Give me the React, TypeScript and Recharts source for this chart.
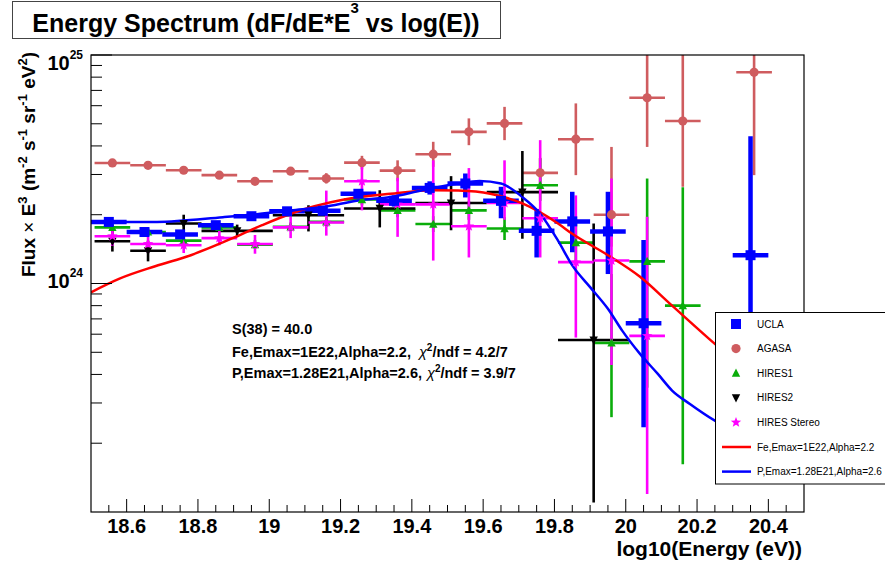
import React from 'react';
import { ComposedChart, Scatter, Line, XAxis, YAxis, ErrorBar } from 'recharts';

const W = 885;
const H = 567;
const PLOT = { left: 91, top: 55, right: 804, bottom: 512 };
const FONT = '"Liberation Sans", Arial, Helvetica, sans-serif';
const E24 = 1e24;

// axis ticks
const xMajorTicks = [18.6, 18.8, 19, 19.2, 19.4, 19.6, 19.8, 20, 20.2, 20.4];
const xMinorTicks = [
  18.55, 18.65, 18.7, 18.75, 18.85, 18.9, 18.95, 19.05, 19.1, 19.15, 19.25, 19.3, 19.35, 19.45, 19.5,
  19.55, 19.65, 19.7, 19.75, 19.85, 19.9, 19.95, 20.05, 20.1, 20.15, 20.25, 20.3, 20.35, 20.45,
];
const yMajorTicks = [1e24, 1e25];
const yMinorTicks = [2e23, 3e23, 4e23, 5e23, 6e23, 7e23, 8e23, 9e23, 2e24, 3e24, 4e24, 5e24, 6e24, 7e24, 8e24, 9e24];

// UCLA (values in units of 1e24)
const uclaX = [18.55, 18.65, 18.75, 18.85, 18.95, 19.05, 19.15, 19.25, 19.35, 19.45, 19.55, 19.65, 19.75, 19.85, 19.95, 20.05, 20.35];
const uclaY = [1.86, 1.68, 1.64, 1.8, 1.97, 2.07, 2.08, 2.47, 2.3, 2.62, 2.74, 2.3, 1.7, 1.87, 1.69, 0.67, 1.33];
const uclaLo = [1.8, 1.62, 1.58, 1.74, 1.9, 1.99, 2.0, 2.36, 2.17, 2.45, 2.38, 1.93, 1.3, 1.37, 1.1, 0.235, 0.3];
const uclaHi = [1.92, 1.74, 1.7, 1.87, 2.04, 2.15, 2.17, 2.58, 2.43, 2.8, 3.03, 2.65, 2.12, 2.52, 2.52, 1.55, 4.41];

// AGASA
const agasaX = [18.56, 18.66, 18.76, 18.86, 18.96, 19.06, 19.16, 19.26, 19.36, 19.46, 19.56, 19.66, 19.76, 19.86, 19.96, 20.06, 20.16, 20.36];
const agasaY = [3.37, 3.29, 3.13, 2.98, 2.8, 3.1, 2.88, 3.38, 3.12, 3.68, 4.61, 5.02, 3.05, 4.28, 2.0, 6.5, 5.14, 8.4];
const agasaLo = [3.28, 3.2, 3.04, 2.89, 2.71, 3.0, 2.74, 3.16, 2.8, 3.24, 4.03, 4.24, 2.65, 2.98, 1.45, 3.96, 2.65, 2.98];
const agasaHi = [3.46, 3.38, 3.22, 3.07, 2.89, 3.2, 3.04, 3.62, 3.46, 4.17, 5.28, 5.93, 3.55, 6.14, 3.96, 10, 10, 10];

// HIRES1
const hires1X = [18.56, 18.66, 18.76, 18.86, 18.96, 19.06, 19.16, 19.26, 19.36, 19.46, 19.56, 19.66, 19.76, 19.86, 19.96, 20.06, 20.16];
const hires1Y = [1.76, 1.68, 1.54, 1.76, 1.48, 1.77, 1.86, 2.33, 2.09, 1.82, 2.09, 1.74, 2.69, 1.51, 0.55, 1.25, 0.8];
const hires1Lo = [1.7, 1.62, 1.48, 1.69, 1.42, 1.69, 1.77, 2.2, 1.95, 1.68, 1.9, 1.55, 2.3, 1.22, 0.26, 0.35, 0.162];
const hires1Hi = [1.83, 1.74, 1.6, 1.83, 1.55, 1.85, 1.96, 2.46, 2.24, 1.97, 2.3, 1.95, 3.53, 1.9, 1.1, 2.88, 2.64];

// HIRES2 (wider bins above 18.8)
const hires2X = [18.56, 18.66, 18.76, 18.91, 19.11, 19.31, 19.51, 19.71, 19.91];
const hires2Ex = [0.05, 0.05, 0.05, 0.1, 0.1, 0.1, 0.1, 0.1, 0.1];
const hires2Y = [1.53, 1.39, 1.83, 1.7, 1.99, 2.13, 2.25, 2.51, 0.566];
const hires2Lo = [1.38, 1.25, 1.71, 1.6, 1.69, 1.76, 1.71, 1.57, 0.11];
const hires2Hi = [1.7, 1.54, 2.0, 1.81, 2.2, 2.56, 2.95, 3.8, 1.83];

// HIRES Stereo
const stereoX = [18.56, 18.66, 18.76, 18.86, 18.96, 19.06, 19.16, 19.26, 19.36, 19.46, 19.56, 19.66, 19.76, 19.86, 19.96, 20.06];
const stereoY = [1.61, 1.49, 1.47, 1.58, 1.49, 1.76, 1.85, 2.8, 2.22, 2.22, 1.78, 2.25, 1.93, 1.24, 1.26, 0.59];
const stereoLo = [1.46, 1.36, 1.36, 1.47, 1.35, 1.58, 1.62, 2.09, 1.6, 1.26, 1.3, 1.9, 1.3, 0.58, 0.44, 0.12];
const stereoHi = [1.76, 1.6, 1.57, 1.71, 1.63, 1.96, 2.55, 3.46, 2.9, 3.46, 3.2, 3.46, 4.24, 2.43, 2.88, 1.96];

// model curves
const feX = [18.5, 18.58, 18.68, 18.78, 18.91, 18.98, 19.06, 19.21, 19.34, 19.46, 19.53, 19.62, 19.71, 19.81, 19.85, 19.95, 20.04, 20.13, 20.25, 20.35];
const feY = [0.915, 1.05, 1.19, 1.33, 1.61, 1.8, 2.02, 2.33, 2.47, 2.56, 2.55, 2.47, 2.24, 1.83, 1.65, 1.33, 1.07, 0.8, 0.544, 0.4];
const pX = [18.5, 18.685, 18.87, 18.965, 19.06, 19.15, 19.25, 19.34, 19.43, 19.53, 19.59, 19.65, 19.71, 19.76, 19.81, 19.85, 19.9, 19.95, 19.99, 20.04, 20.09, 20.13, 20.18, 20.25, 20.35];
const pY = [1.86, 1.86, 1.95, 2.01, 2.09, 2.16, 2.31, 2.39, 2.56, 2.74, 2.81, 2.74, 2.39, 2.02, 1.54, 1.2, 0.964, 0.775, 0.622, 0.492, 0.402, 0.34, 0.297, 0.251, 0.21];

const COLORS = {
  ucla: '#0000ff',
  agasa: '#cf5c5f',
  hires1: '#0aad0a',
  hires2: '#000000',
  stereo: '#ff00ff',
  fe: '#ff0000',
  p: '#0000ff',
};

const makePoints = (xs: number[], ys: number[], lo: number[], hi: number[], ex: number | number[]) =>
  xs.map((x, i) => ({
    x,
    y: ys[i] * E24,
    ex: Array.isArray(ex) ? ex[i] : ex,
    ey: [(ys[i] - lo[i]) * E24, (hi[i] - ys[i]) * E24],
  }));

const makeCurve = (xs: number[], ys: number[]) => xs.map((x, i) => ({ x, y: ys[i] * E24 }));

const uclaData = makePoints(uclaX, uclaY, uclaLo, uclaHi, 0.05);
const agasaData = makePoints(agasaX, agasaY, agasaLo, agasaHi, 0.05);
const hires1Data = makePoints(hires1X, hires1Y, hires1Lo, hires1Hi, 0.05);
const hires2Data = makePoints(hires2X, hires2Y, hires2Lo, hires2Hi, hires2Ex);
const stereoData = makePoints(stereoX, stereoY, stereoLo, stereoHi, 0.05);
const feData = makeCurve(feX, feY);
const pData = makeCurve(pX, pY);

// marker glyphs
const starPath = (cx: number, cy: number, r: number) => {
  let d = '';
  for (let k = 0; k < 10; k++) {
    const rr = k % 2 === 0 ? r : r * 0.42;
    const a = -Math.PI / 2 + (k * Math.PI) / 5;
    d += `${k === 0 ? 'M' : 'L'}${cx + rr * Math.cos(a)},${cy + rr * Math.sin(a)}`;
  }
  return d + 'Z';
};

const drawMarker = (kind: string, cx: number, cy: number, color: string) => {
  switch (kind) {
    case 'square':
      return <rect x={cx - 5} y={cy - 5} width={10} height={10} fill={color} />;
    case 'circle':
      return <circle cx={cx} cy={cy} r={4.6} fill={color} />;
    case 'triUp':
      return <polygon points={`${cx - 4.2},${cy + 3.6} ${cx + 4.2},${cy + 3.6} ${cx},${cy - 4.6}`} fill={color} />;
    case 'triDown':
      return <polygon points={`${cx - 4.2},${cy - 3.6} ${cx + 4.2},${cy - 3.6} ${cx},${cy + 4.6}`} fill={color} />;
    default:
      return <path d={starPath(cx, cy, 5.5)} fill={color} />;
  }
};

const markerShape = (kind: string, color: string) => (props: any) => drawMarker(kind, props.cx, props.cy, color);

const isMajorX = (v: number) => xMajorTicks.some((t) => Math.abs(t - v) < 1e-6);

const XTick = (props: any) => {
  const { x, payload } = props;
  const major = isMajorX(payload.value);
  return (
    <g>
      <line x1={x} x2={x} y1={PLOT.bottom} y2={PLOT.bottom - (major ? 13 : 7)} stroke="#000" strokeWidth={1} />
      {major && (
        <text x={x} y={533} textAnchor="middle" fontFamily={FONT} fontWeight="bold" fontSize={20} fill="#000">
          {String(payload.value)}
        </text>
      )}
    </g>
  );
};

const YTick = (props: any) => {
  const { y, payload } = props;
  const v = payload.value;
  const major = yMajorTicks.includes(v);
  const exp = Math.round(Math.log10(v));
  const base = v === 1e25 ? y + 15 : y + 4;
  return (
    <g>
      <line x1={PLOT.left} x2={PLOT.left + (major ? 21 : 11)} y1={y} y2={y} stroke="#000" strokeWidth={1} />
      {major && (
        <text x={83} y={base} textAnchor="end" fontFamily={FONT} fontWeight="bold" fontSize={20} fill="#000">
          10<tspan dy={-11} fontSize={12}>{exp}</tspan>
        </text>
      )}
    </g>
  );
};

const series = [
  { name: 'AGASA', data: agasaData, color: COLORS.agasa, kind: 'circle', w: 2.6 },
  { name: 'HIRES1', data: hires1Data, color: COLORS.hires1, kind: 'triUp', w: 2.6 },
  { name: 'HIRES2', data: hires2Data, color: COLORS.hires2, kind: 'triDown', w: 2.6 },
  { name: 'HIRES Stereo', data: stereoData, color: COLORS.stereo, kind: 'star', w: 2.6 },
  { name: 'UCLA', data: uclaData, color: COLORS.ucla, kind: 'square', w: 4.5 },
];

const legendItems = [
  { label: 'UCLA', kind: 'square', color: COLORS.ucla },
  { label: 'AGASA', kind: 'circle', color: COLORS.agasa },
  { label: 'HIRES1', kind: 'triUp', color: COLORS.hires1 },
  { label: 'HIRES2', kind: 'triDown', color: COLORS.hires2 },
  { label: 'HIRES Stereo', kind: 'star', color: COLORS.stereo },
  { label: 'Fe,Emax=1E22,Alpha=2.2', kind: 'line', color: COLORS.fe },
  { label: 'P,Emax=1.28E21,Alpha=2.6', kind: 'line', color: COLORS.p },
];

const sup = (s: string, size: number, shift: number) => [
  <tspan key={s + 'a'} dy={-shift} fontSize={size}>{s}</tspan>,
];

export default function App() {
  const xTicks = [...xMajorTicks, ...xMinorTicks].sort((a, b) => a - b);
  const yTicks = [...yMinorTicks, ...yMajorTicks].sort((a, b) => a - b);

  return (
    <div style={{ position: 'absolute', left: 0, top: 0, width: W, height: H, background: '#fff', overflow: 'hidden' }}>
      <ComposedChart width={W} height={H} margin={{ top: 55, right: 81, bottom: 25, left: 31 }}>
        <XAxis
          dataKey="x"
          type="number"
          domain={[18.5, 20.5]}
          allowDataOverflow
          ticks={xTicks}
          interval={0}
          height={30}
          axisLine={false}
          tickLine={false}
          tick={<XTick />}
        />
        <YAxis
          dataKey="y"
          type="number"
          scale="log"
          domain={[1e23, 1e25]}
          allowDataOverflow
          ticks={yTicks}
          interval={0}
          width={60}
          axisLine={false}
          tickLine={false}
          tick={<YTick />}
        />
        {series.map((s) => (
          <Scatter key={s.name} name={s.name} data={s.data} fill={s.color} shape={markerShape(s.kind, s.color)} isAnimationActive={false}>
            <ErrorBar dataKey="ey" direction="y" width={0} stroke={s.color} strokeWidth={s.w} />
            <ErrorBar dataKey="ex" direction="x" width={0} stroke={s.color} strokeWidth={s.w} />
          </Scatter>
        ))}
        <Line data={feData} dataKey="y" type="monotone" stroke={COLORS.fe} strokeWidth={2.5} dot={false} isAnimationActive={false} />
        <Line data={pData} dataKey="y" type="monotone" stroke={COLORS.p} strokeWidth={2.5} dot={false} isAnimationActive={false} />
      </ComposedChart>

      <svg width={W} height={H} style={{ position: 'absolute', left: 0, top: 0, pointerEvents: 'none' }} fontFamily={FONT}>
        {/* frame */}
        <rect x={PLOT.left} y={PLOT.top} width={PLOT.right - PLOT.left} height={PLOT.bottom - PLOT.top} fill="none" stroke="#000" strokeWidth={1.2} />

        {/* title box */}
        <rect x={12.5} y={1.5} width={488} height={37} fill="#fff" stroke="#444" strokeWidth={1} />
        <text x={256} y={32} textAnchor="middle" fontSize={25} fontWeight="bold" fill="#000">
          Energy Spectrum (dF/dE*E<tspan dy={-19} fontSize={15}>3</tspan>
          <tspan dy={19}> vs log(E))</tspan>
        </text>

        {/* axis titles */}
        <text transform="translate(35,52) rotate(-90)" textAnchor="end" fontSize={19} fontWeight="bold" fill="#000">
          Flux <tspan fontWeight="normal">×</tspan> E{sup('3', 13, 8)}
          <tspan dy={8}> (m</tspan>
          {sup('-2', 13, 8)}
          <tspan dy={8}> s</tspan>
          {sup('-1', 13, 8)}
          <tspan dy={8}> sr</tspan>
          {sup('-1', 13, 8)}
          <tspan dy={8}> eV</tspan>
          {sup('2', 13, 8)}
          <tspan dy={8}>)</tspan>
        </text>
        <text x={802} y={556} textAnchor="end" fontSize={21} fontWeight="bold" fill="#000">
          log10(Energy (eV))
        </text>

        {/* fit annotation */}
        <g fontSize={14.5} fontWeight="bold" fill="#000">
          <text x={232} y={334}>S(38) = 40.0</text>
          <text x={232} y={356.5}>
            Fe,Emax=1E22,Alpha=2.2,
            <tspan dx={8} fontWeight="normal" fontStyle="italic">χ</tspan>
            <tspan dy={-6} fontSize={10}>2</tspan>
            <tspan dy={6}>/ndf = 4.2/7</tspan>
          </text>
          <text x={232} y={378}>
            P,Emax=1.28E21,Alpha=2.6,
            <tspan dx={5} fontWeight="normal" fontStyle="italic">χ</tspan>
            <tspan dy={-6} fontSize={10}>2</tspan>
            <tspan dy={6}>/ndf = 3.9/7</tspan>
          </text>
        </g>

        {/* legend */}
        <rect x={715.5} y={312.5} width={190} height={171.5} fill="#fff" stroke="#000" strokeWidth={1} />
        {legendItems.map((it, i) => {
          const cy = 324 + i * 24.6;
          return (
            <g key={it.label}>
              {it.kind === 'line' ? (
                <line x1={722} x2={751} y1={cy} y2={cy} stroke={it.color} strokeWidth={2.5} />
              ) : (
                drawMarker(it.kind, 736, cy, it.color)
              )}
              <text x={757} y={cy + 3.6} fontSize={10} fill="#000">
                {it.label}
              </text>
            </g>
          );
        })}
      </svg>
    </div>
  );
}
